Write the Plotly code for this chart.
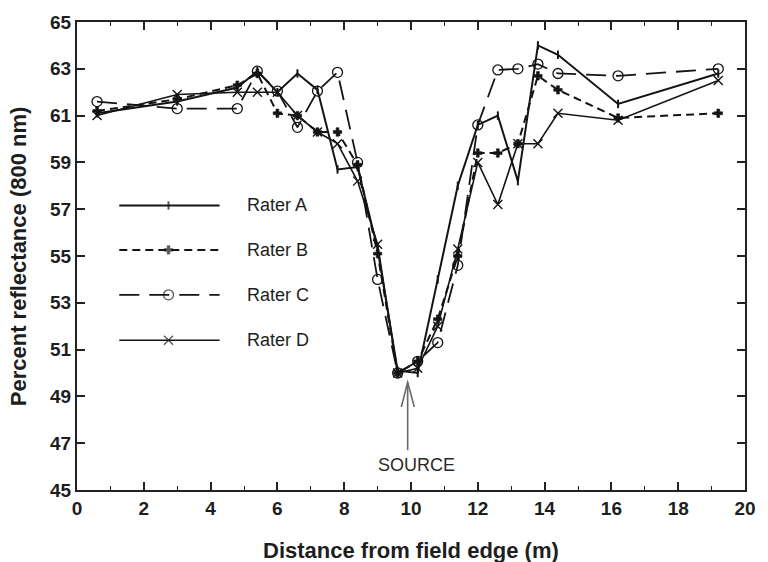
import plotly.graph_objects as go

# Distance from the field edge (m) at each sampling point
distance = [0.6, 3.0, 4.8, 5.4, 6.0, 6.6, 7.2, 7.8, 8.4, 9.0, 9.6,
            10.2, 10.8, 11.4, 12.0, 12.6, 13.2, 13.8, 14.4, 16.2, 19.2]

# Percent reflectance at 800 nm recorded by each rater
rater_a = [61.1, 61.6, 62.2, 62.9, 62.0, 62.8, 62.1, 58.7, 58.8, 55.3, 50.1,
           50.0, 54.0, 58.0, 60.6, 61.0, 58.2, 64.0, 63.6, 61.5, 62.8]
rater_b = [61.2, 61.7, 62.3, 62.8, 61.1, 61.0, 60.3, 60.3, 58.9, 55.1, 50.0,
           50.5, 52.3, 55.0, 59.4, 59.4, 59.8, 62.7, 62.1, 60.9, 61.1]
rater_c = [61.6, 61.3, 61.3, 62.9, 62.05, 60.5, 62.05, 62.85, 59.0, 54.0, 50.0,
           50.5, 51.3, 54.6, 60.6, 62.95, 63.0, 63.2, 62.8, 62.7, 63.0]
rater_d = [61.0, 61.9, 62.0, 62.0, 62.0, 61.0, 60.3, 59.8, 58.2, 55.5, 50.0,
           50.2, 52.0, 55.3, 59.0, 57.2, 59.8, 59.8, 61.1, 60.8, 62.5]

names = ["Rater A", "Rater B", "Rater C", "Rater D"]
series = [rater_a, rater_b, rater_c, rater_d]

# Source location marker
source_x = 9.9
source_tip_y = 49.6
source_tail_y = 46.7
source_label_y = 46.05

INK = "#141414"
styles = [
    dict(dash="solid", width=2.0, symbol="line-ns-open", size=6, mw=2.0),
    dict(dash="8px,5px", width=2.0, symbol="cross", size=7, mw=0.6),
    dict(dash="20px,10px", width=1.8, symbol="circle-open", size=10, mw=1.3),
    dict(dash="solid", width=1.6, symbol="x-thin-open", size=9, mw=1.4),
]

fig = go.Figure()

for name, ys, st in zip(names, series, styles):
    fig.add_trace(go.Scatter(
        x=distance, y=ys, mode="lines+markers", name=name,
        line=dict(color=INK, width=st["width"], dash=st["dash"]),
        marker=dict(symbol=st["symbol"], size=st["size"], color=INK,
                    line=dict(color=INK, width=st["mw"])),
        showlegend=False,
    ))

# Key drawn inside the plot area on an overlay axis spanning 0..1
key_rows = [0.608, 0.513, 0.417, 0.320]
key_x = [0.0633, 0.137, 0.2135]
for name, row, st in zip(names, key_rows, styles):
    fig.add_trace(go.Scatter(
        x=key_x, y=[row] * 3, mode="lines+markers", xaxis="x2", yaxis="y2",
        line=dict(color=INK, width=st["width"], dash=st["dash"]),
        marker=dict(symbol=st["symbol"], size=[0, st["size"], 0], color=INK,
                    line=dict(color=INK, width=st["mw"])),
        showlegend=False, hoverinfo="skip",
    ))
    fig.add_annotation(x=0.252, y=row, xref="x2", yref="y2", text=name,
                       showarrow=False, xanchor="left", yanchor="middle",
                       font=dict(size=18, color="#1e1e1e"))

# Arrow pointing at the source
arrow = "#6a6a6a"
fig.add_shape(type="line", x0=source_x, x1=source_x, y0=source_tail_y,
              y1=source_tip_y, line=dict(color=arrow, width=1.6))
fig.add_shape(type="path",
              path=f"M {source_x - 0.19} {source_tip_y - 1.05} L {source_x} {source_tip_y} "
                   f"L {source_x + 0.2} {source_tip_y - 1.05}",
              line=dict(color=arrow, width=1.6))
fig.add_annotation(x=source_x + 0.25, y=source_label_y, text="SOURCE",
                   showarrow=False, font=dict(size=18, color="#2a2a2a"))

# Axis titles
fig.add_annotation(x=0.5, y=-0.13, xref="paper", yref="paper",
                   text="<b>Distance from field edge (m)</b>", showarrow=False,
                   font=dict(size=22, color="#1e1e1e"), yanchor="middle")
fig.add_annotation(x=-0.088, y=0.5, xref="paper", yref="paper",
                   text="<b>Percent reflectance (800 nm)</b>", showarrow=False,
                   textangle=-90, font=dict(size=22, color="#1e1e1e"), xanchor="center")

axis_common = dict(
    showline=True, linecolor="#222", linewidth=2, mirror="ticks",
    ticks="inside", ticklen=8, tickwidth=1.6, tickcolor="#222",
    showgrid=False, zeroline=False,
    tickfont=dict(size=19, color="#1e1e1e", family="Liberation Sans, Arial, sans-serif"),
)

fig.update_layout(
    width=768, height=562,
    margin=dict(l=77, r=12, t=14, b=72),
    paper_bgcolor="white", plot_bgcolor="white",
    font=dict(family="Liberation Sans, Arial, sans-serif", color="#222"),
    xaxis=dict(range=[0, 20], tickvals=list(range(0, 21, 2)),
               ticktext=[f"<b>{v}</b>" for v in range(0, 21, 2)],
               minor=dict(tickvals=list(range(1, 20, 2)), ticks="inside",
                          ticklen=4, tickwidth=1.3, tickcolor="#222"),
               **axis_common),
    yaxis=dict(range=[45, 65], tickvals=list(range(45, 66, 2)),
               ticktext=[f"<b>{v}</b>" for v in range(45, 66, 2)],
               **axis_common),
    xaxis2=dict(overlaying="x", range=[0, 1], visible=False),
    yaxis2=dict(overlaying="y", range=[0, 1], visible=False),
)

fig.write_html("out.html")
